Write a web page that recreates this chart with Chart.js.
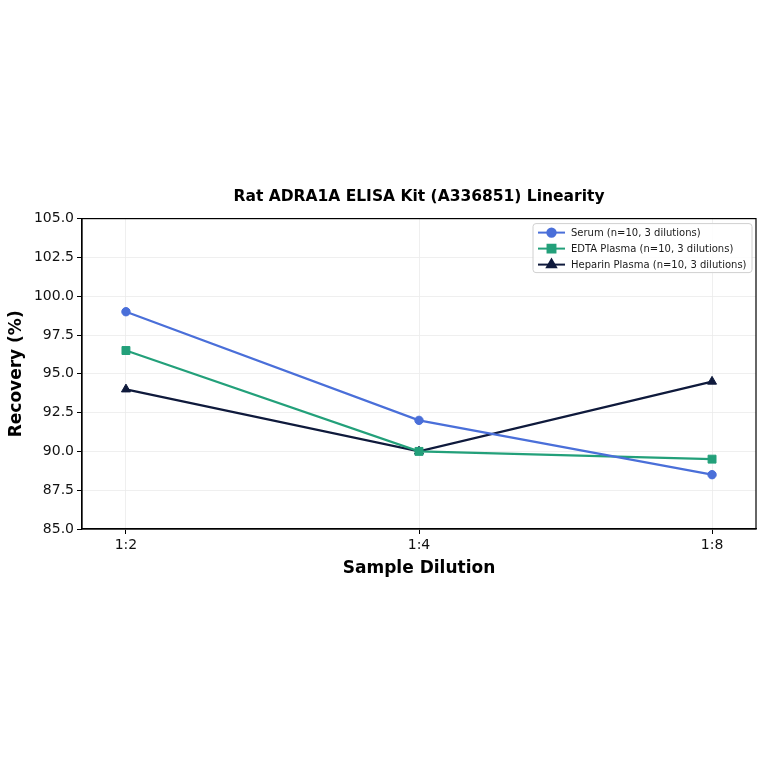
<!DOCTYPE html>
<html>
<head>
<meta charset="utf-8">
<script src="https://cdn.jsdelivr.net/npm/chart.js@4.4.0/dist/chart.umd.min.js"></script>
<style>
    html, body { margin: 0; padding: 0; background: #fff; }
    #wrap { width: 764px; height: 764px; }
</style>
</head>
<body>
<div id="wrap"><canvas id="chart" width="764" height="764"></canvas></div>
<script>
let dilutions = ['1:2', '1:4', '1:8'];
let serumValues = [99.0, 92.0, 88.5];
let edtaValues = [96.5, 90.0, 89.5];
let heparinValues = [94.0, 90.0, 94.5];
let yTicks = [85.0, 87.5, 90.0, 92.5, 95.0, 97.5, 100.0, 102.5, 105.0];
let seriesNames = ['Serum (n=10, 3 dilutions)', 'EDTA Plasma (n=10, 3 dilutions)', 'Heparin Plasma (n=10, 3 dilutions)'];

const FONT = 'DejaVu Sans';


// -------- PUNKTE BAUEN -------- //

function toPoints(values) {
    return values.map((v, i) => ({ x: i, y: v }));
}


// -------- RAHMEN + LEGENDE -------- //

const framePlugin = {
    id: 'frame',
    afterDatasetsDraw(chart) {
        const ctx = chart.ctx;
        const a = chart.chartArea;
        ctx.save();
        ctx.strokeStyle = '#000';
        ctx.lineWidth = 1.2;
        ctx.strokeRect(a.left, a.top, a.right - a.left, a.bottom - a.top);

        // legend box inside the plot, top right
        const bx = a.right - 223, by = a.top + 5, bw = 219, bh = 49;
        ctx.fillStyle = 'rgba(255,255,255,0.85)';
        ctx.strokeStyle = '#d0d0d0';
        ctx.lineWidth = 1;
        ctx.beginPath();
        ctx.roundRect(bx, by, bw, bh, 3);
        ctx.fill();
        ctx.stroke();

        ctx.font = '10px "' + FONT + '"';
        ctx.textBaseline = 'middle';
        chart.data.datasets.forEach((ds, i) => {
            const y = by + 9 + i * 16;
            ctx.strokeStyle = ds.borderColor;
            ctx.lineWidth = 2;
            ctx.beginPath();
            ctx.moveTo(bx + 5, y);
            ctx.lineTo(bx + 32, y);
            ctx.stroke();
            ctx.fillStyle = ds.borderColor;
            Chart.helpers.drawPoint(ctx, {
                pointStyle: ds.pointStyle,
                radius: ds.pointRadius,
                borderWidth: 1
            }, bx + 18.5, y);
            ctx.fillStyle = '#1a1a1a';
            ctx.fillText(ds.label, bx + 38, y + 1);
        });
        ctx.restore();
    }
};


// -------- CHART -------- //

function makeDataset(label, values, color, style, radius) {
    return {
        label: label,
        data: toPoints(values),
        borderColor: color,
        backgroundColor: color,
        pointBackgroundColor: color,
        pointBorderColor: color,
        pointStyle: style,
        pointRadius: radius,
        pointBorderWidth: 1,
        borderWidth: 2.2,
        tension: 0
    };
}

function showChart() {
    const ctx = document.getElementById('chart');

    new Chart(ctx, {
        type: 'line',
        data: {
            datasets: [
                makeDataset(seriesNames[0], serumValues, '#4a6fd9', 'circle', 4.2),
                makeDataset(seriesNames[1], edtaValues, '#23a07a', 'rect', 5.6),
                makeDataset(seriesNames[2], heparinValues, '#0f1a3c', 'triangle', 5.2)
            ]
        },
        options: {
            responsive: false,
            animation: false,
            layout: {
                padding: { top: 188, bottom: 185, left: 6, right: 8 }
            },
            plugins: {
                legend: { display: false },
                tooltip: { enabled: false },
                title: {
                    display: true,
                    fullSize: false,
                    text: 'Rat ADRA1A ELISA Kit (A336851) Linearity',
                    color: '#000',
                    font: { family: FONT, size: 15.5, weight: 'bold', lineHeight: 1.2 },
                    padding: { top: 0, bottom: 12 }
                }
            },
            scales: {
                x: {
                    type: 'linear',
                    min: -0.15,
                    max: 2.15,
                    afterBuildTicks: s => { s.ticks = dilutions.map((d, i) => ({ value: i })); },
                    afterFit: s => { s.height = 50; },
                    ticks: {
                        callback: v => dilutions[v],
                        color: '#111',
                        font: { family: FONT, size: 14 },
                        padding: 3,
                        maxRotation: 0
                    },
                    grid: { color: '#ebebeb', lineWidth: 0.8, tickColor: '#000', tickLength: 5, tickWidth: 1 },
                    border: { color: '#000', width: 1.2 },
                    title: {
                        display: true,
                        text: 'Sample Dilution',
                        color: '#000',
                        font: { family: FONT, size: 17, weight: 'bold' },
                        padding: { top: 2, bottom: 0 }
                    }
                },
                y: {
                    min: 85,
                    max: 105,
                    afterBuildTicks: s => { s.ticks = yTicks.map(v => ({ value: v })); },
                    afterFit: s => { s.width = 76; },
                    ticks: {
                        callback: v => v.toFixed(1),
                        color: '#111',
                        font: { family: FONT, size: 14 },
                        padding: 3
                    },
                    grid: { color: '#ebebeb', lineWidth: 0.8, tickColor: '#000', tickLength: 5, tickWidth: 1 },
                    border: { color: '#000', width: 1.2 },
                    title: {
                        display: true,
                        text: 'Recovery (%)',
                        color: '#000',
                        font: { family: FONT, size: 17, weight: 'bold' },
                        padding: { top: 0, bottom: 0 }
                    }
                }
            }
        },
        plugins: [framePlugin]
    });
}

showChart();
</script>
</body>
</html>
